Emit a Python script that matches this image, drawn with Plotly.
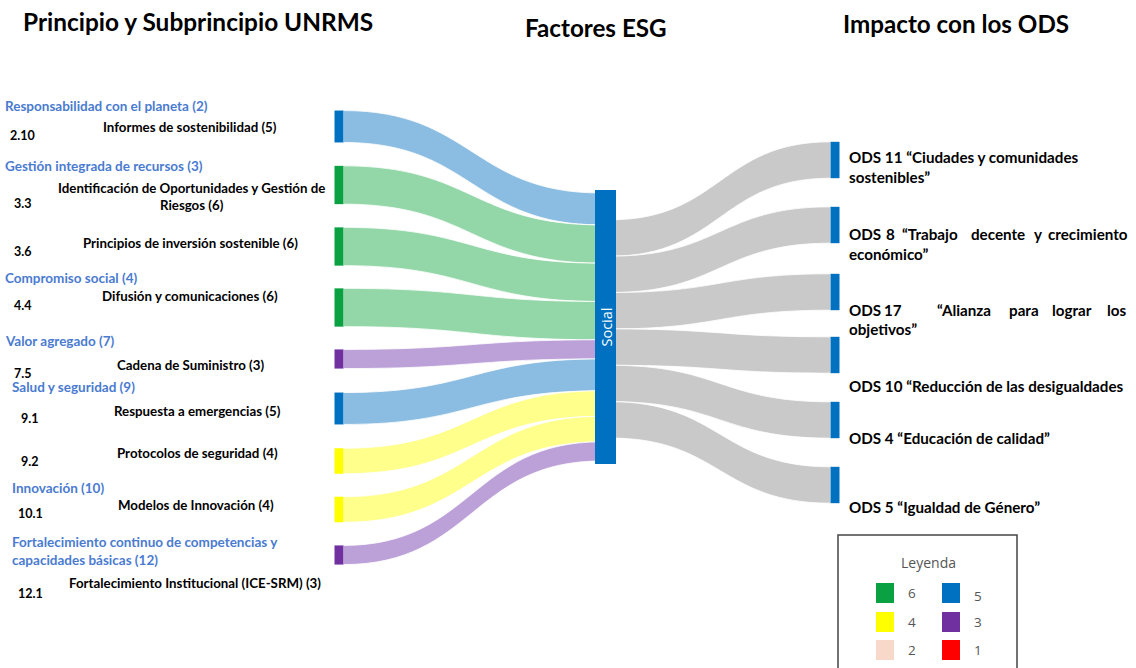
import plotly.graph_objects as go

W, H = 1136, 668

# ---------------- data ----------------
titles = ["Principio y Subprincipio UNRMS", "Factores ESG", "Impacto con los ODS"]

principle_titles = [
    "Responsabilidad con el planeta (2)",
    "Gestión integrada de recursos (3)",
    "Compromiso social (4)",
    "Valor agregado (7)",
    "Salud y seguridad (9)",
    "Innovación (10)",
    "Fortalecimiento continuo de competencias y<br>capacidades básicas (12)",
]
sub_codes = ["2.10", "3.3", "3.6", "4.4", "7.5", "9.1", "9.2", "10.1", "12.1"]
sub_labels = [
    "Informes de sostenibilidad (5)",
    "Identificación de Oportunidades y Gestión de<br>Riesgos (6)",
    "Principios de inversión sostenible (6)",
    "Difusión y comunicaciones (6)",
    "Cadena de Suministro (3)",
    "Respuesta a emergencias (5)",
    "Protocolos de seguridad (4)",
    "Modelos de Innovación (4)",
    "Fortalecimiento Institucional (ICE-SRM) (3)",
]
sub_values = [5, 6, 6, 6, 3, 5, 4, 4, 3]
esg_factor = "Social"
ods_labels = [
    "ODS 11 “Ciudades y comunidades sostenibles”",
    "ODS 8 “Trabajo decente y crecimiento económico”",
    "ODS 17 “Alianza para lograr los objetivos”",
    "ODS 10 “Reducción de las desigualdades",
    "ODS 4 “Educación de calidad”",
    "ODS 5 “Igualdad de Género”",
]
ods_values = [5.7, 5.7, 5.7, 5.7, 5.7, 5.7]
spacer_value = 4.2  # invisible offset so the grey flows leave the middle of "Social"

legend_levels = [6, 5, 4, 3, 2, 1]

# ---------------- styles ----------------
node_colors = {6: "#0AA142", 5: "#0070C0", 4: "#FFFF00", 3: "#7030A0", 2: "#F8D8C8", 1: "#FF0000"}
link_colors = {6: "#93D6A7", 5: "#8BBCE1", 4: "#FFFF8C", 3: "#BBA1D8", 2: "#FBE8DF", 1: "#FF8080"}
grey_link = "#C9C9C9"
clear = "rgba(255,255,255,0)"
font_b = "Lato"
blue_txt = "#4A7BD0"

# layout positions (pixels)
left_x, mid_x, right_x = 339, 605.5, 835
left_y = [126.5, 185, 246.5, 307.5, 359, 408.5, 461, 509.5, 555]
mid_y = 327
mid_top, mid_bottom, mid_width = 190, 464, 21
ods_y = [160, 225, 292, 355, 420, 485]
spacer_y = 60

n_left = len(sub_values)
mid_i = n_left
ods_i0 = n_left + 1
spacer_i = ods_i0 + len(ods_values)

node_x = [left_x / W] * n_left + [mid_x / W] + [right_x / W] * len(ods_values) + [right_x / W]
node_y = [y / H for y in left_y] + [mid_y / H] + [y / H for y in ods_y] + [spacer_y / H]
n_colors = ([node_colors[v] for v in sub_values] + [node_colors[5]]
            + [node_colors[5]] * len(ods_values) + [clear])

src, tgt, val, lcol = [], [], [], []
for i, v in enumerate(sub_values):
    src.append(i); tgt.append(mid_i); val.append(v); lcol.append(link_colors[v])
src.append(mid_i); tgt.append(spacer_i); val.append(spacer_value); lcol.append(clear)
for j, v in enumerate(ods_values):
    src.append(mid_i); tgt.append(ods_i0 + j); val.append(v); lcol.append(grey_link)

names = [s.replace("<br>", " ") for s in sub_labels] + [esg_factor] + ods_labels + [""]

fig = go.Figure()
fig.add_trace(go.Sankey(
    arrangement="fixed",
    domain=dict(x=[0, 1], y=[0, 1]),
    node=dict(
        label=[""] * len(names),
        customdata=names,
        x=node_x, y=node_y,
        pad=50, thickness=9,
        color=n_colors,
        line=dict(color="white", width=0),
        hovertemplate="%{customdata}<extra></extra>",
    ),
    link=dict(source=src, target=tgt, value=val, color=lcol,
              line=dict(color="white", width=0.8), hoverinfo="none"),
))
# wider drawing of the central "Social" node (same total value, overlaid)
fig.add_trace(go.Sankey(
    arrangement="fixed",
    domain=dict(x=[(mid_x - mid_width / 2) / W, 0.75], y=[1 - mid_bottom / H, 1 - mid_top / H]),
    node=dict(label=["", ""], pad=0, thickness=mid_width,
              color=[node_colors[5], clear], line=dict(width=0), hoverinfo="none"),
    link=dict(source=[0], target=[1], value=[sum(sub_values)], color=[clear],
              line=dict(width=0), hoverinfo="none"),
))

ann = []


def add(text, x, y, size=13.3, color="black", xanchor="left", bold=True, family=font_b, **kw):
    t = f"<b>{text}</b>" if bold else text
    ann.append(dict(text=t, x=x / W, y=1 - y / H, xref="paper", yref="paper",
                    xanchor=xanchor, yanchor="middle", showarrow=False,
                    font=dict(family=family, size=size, color=color), **kw))


# titles
add(titles[0], 198, 22, size=24.4, xanchor="center")
add(titles[1], 596, 27, size=24.2, xanchor="center")
add(titles[2], 956, 24, size=24.2, xanchor="center")

# principle headings
pt_pos = [(3, 106), (3, 166), (3, 278), (3, 341), (10, 387), (10, 488), (10, 551)]
for t, (x, y) in zip(principle_titles, pt_pos):
    add(t, x, y, size=13.5, color=blue_txt, align="left")

# codes
code_pos = [(8, 135), (12, 203), (12, 251), (12, 305), (12, 373), (19, 418), (19, 462), (16, 513), (16, 593)]
for t, (x, y) in zip(sub_codes, code_pos):
    add(t, x, y, size=12.5)

# sub-principle labels
lab_pos = [(190, 127), (191, 196), (190, 243), (190, 296), (190, 365), (197, 411), (197, 453), (196, 505), (195, 583)]
for t, (x, y) in zip(sub_labels, lab_pos):
    add(t, x, y, xanchor="center", align="center")

# ODS labels (justified lines rebuilt word by word)
S = 15.2
add("ODS 11 “Ciudades y comunidades", 847, 157, size=S)
add("sostenibles”", 847, 177, size=S)
for w, x, xa in [("ODS", 847, "left"), ("8", 890, "center"), ("“Trabajo", 930, "center"),
                 ("decente", 998, "center"), ("y", 1038, "center"), ("crecimiento", 1130, "right")]:
    add(w, x, 234, size=S, xanchor=xa)
add("económico”", 847, 254, size=S)
for w, x, xa in [("ODS", 847, "left"), ("17", 893, "center"), ("“Alianza", 964, "center"),
                 ("para", 1024, "center"), ("lograr", 1072, "center"), ("los", 1128, "right")]:
    add(w, x, 310, size=S, xanchor=xa)
add("objetivos”", 847, 329, size=S)
add(ods_labels[3], 847, 386, size=S)
add(ods_labels[4], 847, 438, size=S)
add(ods_labels[5], 847, 507, size=S)

# Social label inside node
add(esg_factor, mid_x, mid_y, size=14.5, color="white", xanchor="center", bold=False,
    family="Open Sans", textangle=-90)

# legend
shapes = [dict(type="rect", xref="paper", yref="paper", x0=838 / W, x1=1017 / W,
               y0=1 - 700 / H, y1=1 - 535 / H, line=dict(color="#444", width=1.5),
               fillcolor="white", layer="above")]
add("Leyenda", 928, 562, size=14, color="#555", xanchor="center", bold=False, family="Open Sans")
sq_x = [876, 942]
sq_y = [583, 612, 640]
for k, lvl in enumerate(legend_levels):
    r, c = divmod(k, 2)
    x0, y0 = sq_x[c], sq_y[r]
    shapes.append(dict(type="rect", xref="paper", yref="paper", x0=x0 / W, x1=(x0 + 18) / W,
                       y0=1 - (y0 + 20) / H, y1=1 - y0 / H, line=dict(width=0),
                       fillcolor=node_colors[lvl], layer="above"))
    add(str(lvl), x0 + 30, y0 + 10 + (3 if c == 1 and r == 0 else 0), size=13.5, color="#555",
        bold=False, family="Open Sans")

fig.update_layout(
    width=W, height=H, margin=dict(l=0, r=0, t=0, b=0),
    paper_bgcolor="white", plot_bgcolor="white",
    annotations=ann, shapes=shapes, showlegend=False,
)
fig.write_html("out.html", config={"displayModeBar": False},
               post_script="document.body.style.margin='0px';document.body.style.overflow='hidden';")
